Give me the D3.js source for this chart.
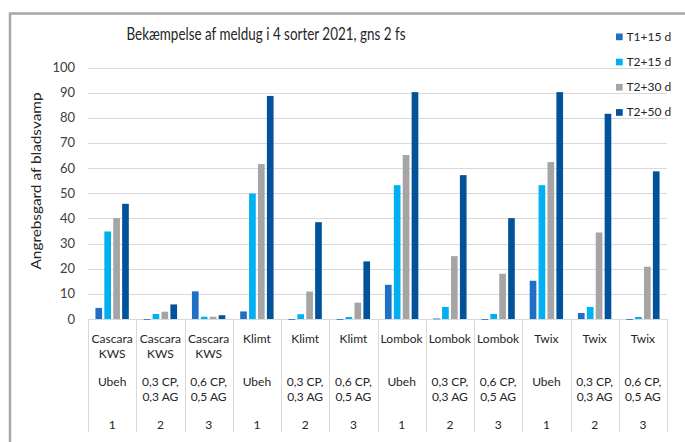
<!DOCTYPE html>
<html>
<head>
<meta charset="utf-8">
<script src="https://cdn.jsdelivr.net/npm/d3@7"></script>
<style>
body{margin:0;background:#fff;}
svg{font-family:Lato, "Open Sans", sans-serif;}
</style>
</head>
<body>
<div id="graf"></div>
<script>
var width = 685,
height = 442,
marg = {left:88, right:667, top:67.5, bottom:319};

// data
var sorter = ["Cascara KWS","Cascara KWS","Cascara KWS","Klimt","Klimt","Klimt","Lombok","Lombok","Lombok","Twix","Twix","Twix"];
var behandling = ["Ubeh","0,3 CP, 0,3 AG","0,6 CP, 0,5 AG","Ubeh","0,3 CP, 0,3 AG","0,6 CP, 0,5 AG","Ubeh","0,3 CP, 0,3 AG","0,6 CP, 0,5 AG","Ubeh","0,3 CP, 0,3 AG","0,6 CP, 0,5 AG"];
var nummer = ["1","2","3","1","2","3","1","2","3","1","2","3"];
var serier = ["T1+15 d","T2+15 d","T2+30 d","T2+50 d"];
var t1_15 = [4.4,-0.3,11,3,-0.3,-0.3,13.6,0.2,-0.3,15.2,2.4,-0.3];
var t2_15 = [34.8,2,0.9,49.9,1.9,0.8,53.2,4.8,2,53.2,4.8,0.8];
var t2_30 = [40.1,2.9,0.9,61.6,10.9,6.5,65.2,25,18,62.4,34.4,20.8];
var t2_50 = [45.8,5.8,1.5,88.7,38.5,22.9,90.2,57.2,40.1,90.2,81.6,58.7];
var yticks = [0,10,20,30,40,50,60,70,80,90,100];
var farver = ["#1f6fc6","#00b0f0","#a5a5a5","#00539b"];

var vaerdier = [t1_15,t2_15,t2_30,t2_50];

var svg = d3.select("#graf").append("svg")
	.attr("width",width)
	.attr("height",height);

// ramme
svg.append("path")
	.attr("d","M10," + height + " V13.5 H" + width)
	.attr("fill","none")
	.attr("stroke","#a6a6a6")
	.attr("stroke-width",2.5);

var x = d3.scaleBand()
	.domain(d3.range(sorter.length))
	.range([marg.left,marg.right]);

var xs = d3.scaleBand()
	.domain(d3.range(serier.length))
	.range([0,x.bandwidth()])
	.paddingInner(0.25)
	.paddingOuter(0.835);

var y = d3.scaleLinear()
	.domain([0,100])
	.range([marg.bottom,marg.top]);

// gitterlinjer
svg.selectAll(".grid")
	.data(yticks)
	.enter().append("line")
	.attr("x1",marg.left)
	.attr("x2",marg.right)
	.attr("y1",function(d){return Math.round(y(d))+0.5})
	.attr("y2",function(d){return Math.round(y(d))+0.5})
	.attr("stroke","#d9d9d9")
	.attr("stroke-width",1);

svg.selectAll(".ytxt")
	.data(yticks)
	.enter().append("text")
	.attr("x",75)
	.attr("y",function(d){return y(d)+4.5})
	.attr("text-anchor","end")
	.attr("font-size",13)
	.attr("fill","#404040")
	.text(function(d){return d});

// kategori-linjer
var graenser = d3.range(sorter.length+1).map(function(i){
	return i<sorter.length ? x(i) : x(i-1)+x.bandwidth();
});
svg.selectAll(".kat")
	.data(graenser)
	.enter().append("line")
	.attr("x1",function(d){return Math.round(d)+0.5})
	.attr("x2",function(d){return Math.round(d)+0.5})
	.attr("y1",marg.bottom)
	.attr("y2",432)
	.attr("stroke","#d9d9d9");

// soejler
serier.forEach(function(s,k){
	svg.selectAll(".bar"+k)
		.data(vaerdier[k])
		.enter().append("rect")
		.attr("x",function(d,i){return x(i)+xs(k)})
		.attr("width",xs.bandwidth())
		.attr("y",function(d){return Math.min(y(d),y(0))})
		.attr("height",function(d){return Math.max(Math.abs(y(d)-y(0)),0.8)})
		.attr("fill",farver[k]);
});

// kategori-tekster
function skriv(liste,y0){
	var g = svg.append("g");
	liste.forEach(function(t,i){
		var ord = t.indexOf(" ")>0 && t.length>6 ? (t.indexOf(", ")>0 ? t.split(", ").map(function(a,j,arr){return j<arr.length-1? a+",":a}) : t.split(" ")) : [t];
		ord.forEach(function(o,j){
			g.append("text")
				.attr("x",x(i)+x.bandwidth()/2)
				.attr("y",y0+j*15.5)
				.attr("text-anchor","middle")
				.attr("font-size",12)
				.attr("fill","#262626")
				.text(o);
		});
	});
}
skriv(sorter,342.5);
skriv(behandling,385.5);
skriv(nummer,428.5);

// titel
svg.append("text")
	.attr("x",266)
	.attr("y",40)
	.attr("text-anchor","middle")
	.attr("font-size",16.5)
	.attr("textLength",279)
	.attr("lengthAdjust","spacingAndGlyphs")
	.attr("fill","#262626")
	.text("Bekæmpelse af meldug i 4 sorter 2021, gns 2 fs");

// y-akse titel
svg.append("text")
	.attr("transform","translate(41,181) rotate(-90)")
	.attr("text-anchor","middle")
	.attr("font-size",14)
	.attr("textLength",177)
	.attr("lengthAdjust","spacingAndGlyphs")
	.attr("fill","#262626")
	.text("Angrebsgard af bladsvamp");

// legende
var leg = svg.selectAll(".leg")
	.data(serier)
	.enter().append("g")
	.attr("transform",function(d,i){return "translate(616," + (33.5+i*25.2) + ")"});
leg.append("rect")
	.attr("width",6.7)
	.attr("height",6.7)
	.attr("fill",function(d,i){return farver[i]});
leg.append("text")
	.attr("x",10.5)
	.attr("y",7)
	.attr("font-size",12)
	.attr("fill","#262626")
	.text(function(d){return d});
</script>
</body>
</html>
